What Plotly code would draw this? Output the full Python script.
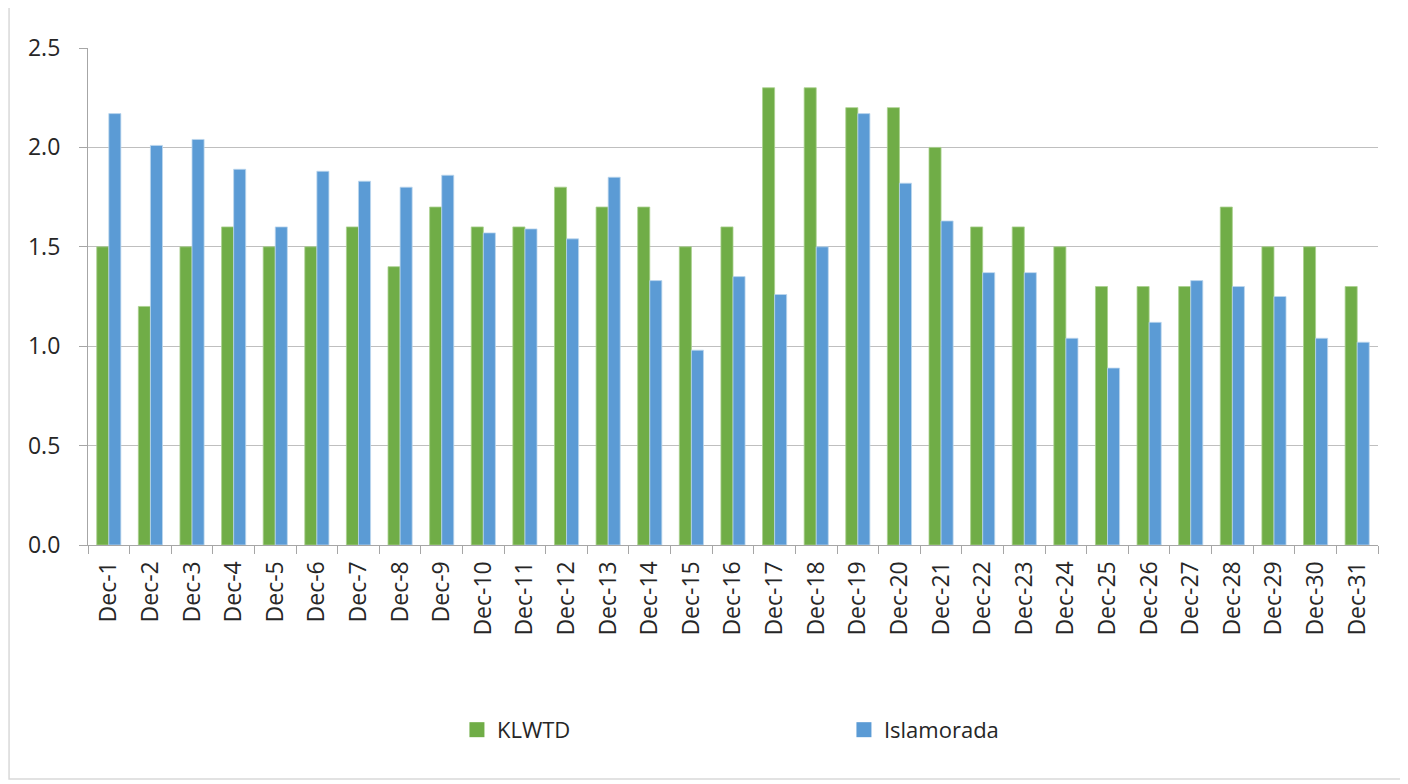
import plotly.graph_objects as go

days = [f"Dec-{i}" for i in range(1, 32)]
klwtd = [1.5, 1.2, 1.5, 1.6, 1.5, 1.5, 1.6, 1.4, 1.7, 1.6,
         1.6, 1.8, 1.7, 1.7, 1.5, 1.6, 2.3, 2.3, 2.2, 2.2,
         2.0, 1.6, 1.6, 1.5, 1.3, 1.3, 1.3, 1.7, 1.5, 1.5, 1.3]
islamorada = [2.17, 2.01, 2.04, 1.89, 1.60, 1.88, 1.83, 1.80, 1.86, 1.57,
              1.59, 1.54, 1.85, 1.33, 0.98, 1.35, 1.26, 1.50, 2.17, 1.82,
              1.63, 1.37, 1.37, 1.04, 0.89, 1.12, 1.33, 1.30, 1.25, 1.04, 1.02]

series_names = ["KLWTD", "Islamorada"]
series_colors = ["#70AD47", "#5B9BD5"]
outline_colors = ["#A9D18E", "#BDD7EE"]

tick_font = "Open Sans"
text_color = "#262626"

fig = go.Figure()
for name, vals, col, oc in zip(series_names, [klwtd, islamorada], series_colors, outline_colors):
    fig.add_trace(go.Bar(x=days, y=vals, name=name, legendgroup=name, showlegend=False,
                         marker=dict(color=col, line=dict(color=oc, width=0.8))))
# legend-only proxies with larger square swatches
for name, col in zip(series_names, series_colors):
    fig.add_trace(go.Scatter(x=[None], y=[None], mode="markers", name=name, legendgroup=name,
                             marker=dict(symbol="square", size=15, color=col, line=dict(width=0)),
                             showlegend=True, hoverinfo="skip"))

# page body has an 8px margin; figure is 1400x776 so plot area lands at x 88-1378, y 48-545
fig.update_layout(
    width=1400, height=776,
    margin=dict(l=80, r=30, t=40, b=239),
    paper_bgcolor="white", plot_bgcolor="white",
    barmode="group", bargap=0.42, bargroupgap=0,
    font=dict(family=tick_font, size=22, color=text_color),
    showlegend=True,
    legend=dict(orientation="h", x=0.286, xanchor="left", y=-0.372, yanchor="middle",
                entrywidth=342, entrywidthmode="pixels",
                font=dict(family=tick_font, size=22, color=text_color)),
    shapes=[dict(type="rect", xref="paper", yref="paper",
                 x0=-0.0612, x1=1.0194, y0=-0.4708, y1=1.0865,
                 line=dict(color="#D9D9D9", width=1.5), layer="below")],
)
fig.update_xaxes(
    tickangle=-90, showline=True, linecolor="#A6A6A6", linewidth=1.2,
    ticks="outside", tickson="boundaries", ticklen=8, tickcolor="#A6A6A6",
    showgrid=False, ticklabelstandoff=6,
    tickfont=dict(family=tick_font, size=23, color=text_color),
)
fig.update_yaxes(
    range=[0, 2.5], dtick=0.5, tickformat=".1f",
    showline=True, linecolor="#A6A6A6", linewidth=1.2,
    ticks="outside", ticklen=8, tickcolor="#A6A6A6",
    showgrid=True, gridcolor="#BFBFBF", gridwidth=1.2,
    zeroline=False, ticklabelstandoff=14,
    tickfont=dict(family=tick_font, size=23, color=text_color),
)

fig.write_html("out.html")
